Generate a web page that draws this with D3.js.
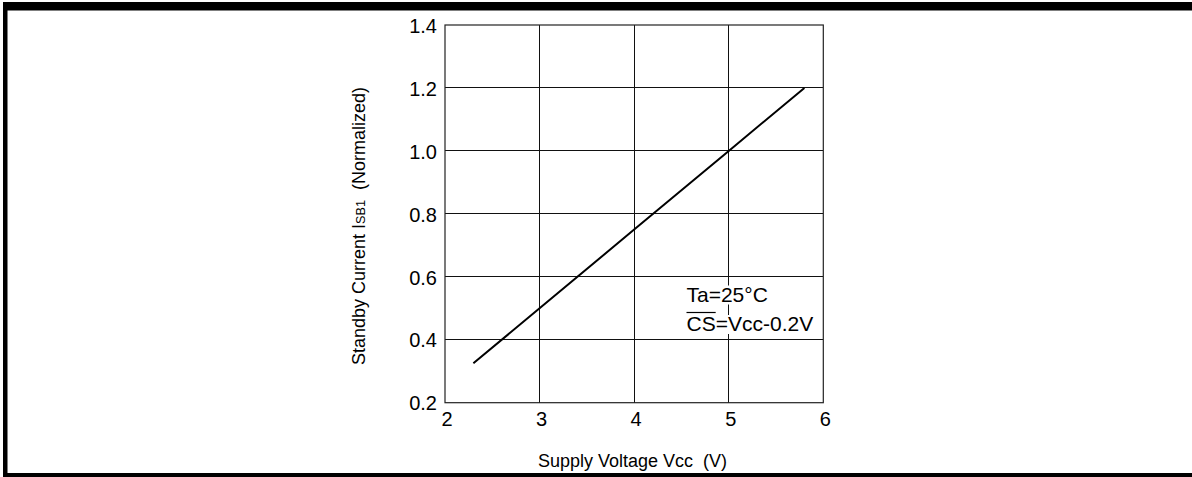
<!DOCTYPE html>
<html>
<head>
<meta charset="utf-8">
<script src="https://cdn.jsdelivr.net/npm/d3@7/dist/d3.min.js"></script>
<style>
  html, body { margin: 0; padding: 0; background: #fff; }
  svg { display: block; }
  text { font-family: "Liberation Sans", Arial, Helvetica, sans-serif; fill: #000; white-space: pre; }
</style>
</head>
<body>
<svg id="chart" width="1192" height="477"></svg>
<script>
// Standby current vs. supply voltage (normalized)
const voltage = [2.3, 3, 4, 5, 5.8];
const isb1 = [0.325, 0.5, 0.75, 1.0, 1.2];
const xTicks = [2, 3, 4, 5, 6];
const yTicks = [0.2, 0.4, 0.6, 0.8, 1.0, 1.2, 1.4];
const yTickLabels = ["0.2", "0.4", "0.6", "0.8", "1.0", "1.2", "1.4"];
const noteLines = ["Ta=25°C", "=Vcc-0.2V"];

const svg = d3.select("#chart");
const W = 1192, H = 477;

// page frame (heavy rules top, left, bottom)
svg.append("rect").attr("x", 3).attr("y", 2).attr("width", W - 3).attr("height", 8.5).attr("fill", "#000");
svg.append("rect").attr("x", 3).attr("y", 4).attr("width", 4.5).attr("height", H - 4).attr("fill", "#000");
svg.append("rect").attr("x", 3).attr("y", 473).attr("width", W - 3).attr("height", 4).attr("fill", "#000");

const plot = { left: 445, top: 25, right: 823.3, bottom: 402.7 };
const x = d3.scaleLinear().domain([2, 6]).range([plot.left, plot.right]);
const y = d3.scaleLinear().domain([0.2, 1.4]).range([plot.bottom, plot.top]);

const g = svg.append("g");

// grid
g.append("g").selectAll("line").data(xTicks.slice(1, -1)).join("line")
  .attr("x1", d => x(d)).attr("x2", d => x(d))
  .attr("y1", plot.top).attr("y2", plot.bottom)
  .attr("stroke", "#111").attr("stroke-width", 1).attr("shape-rendering", "crispEdges");
g.append("g").selectAll("line").data(yTicks.slice(1, -1)).join("line")
  .attr("y1", d => y(d)).attr("y2", d => y(d))
  .attr("x1", plot.left).attr("x2", plot.right)
  .attr("stroke", "#111").attr("stroke-width", 1).attr("shape-rendering", "crispEdges");

// plot border
g.append("rect")
  .attr("x", plot.left).attr("y", plot.top)
  .attr("width", plot.right - plot.left).attr("height", plot.bottom - plot.top)
  .attr("fill", "none").attr("stroke", "#222").attr("stroke-width", 1.2);

// axes (labels only)
const yAxis = d3.axisLeft(y).tickValues(yTicks)
  .tickFormat((d, i) => yTickLabels[i]).tickSize(0).tickPadding(8);
const ya = g.append("g").attr("transform", `translate(${plot.left},0)`).call(yAxis);
ya.select(".domain").remove();
ya.selectAll("text").attr("font-size", 20).attr("font-family", null).attr("dy", "0.36em");

const xAxis = d3.axisBottom(x).tickValues(xTicks).tickFormat(d3.format("d")).tickSize(0).tickPadding(9);
const xa = g.append("g").attr("transform", `translate(1.5,${plot.bottom})`).call(xAxis);
xa.select(".domain").remove();
xa.selectAll("text").attr("font-size", 20).attr("font-family", null);

// data line
const line = d3.line().x((d, i) => x(voltage[i])).y(d => y(d));
g.append("path").datum(isb1)
  .attr("d", line)
  .attr("fill", "none").attr("stroke", "#000").attr("stroke-width", 2);

// annotation with white backing so grid line sits behind the text
const note = g.append("g");
const t1 = note.append("text").attr("x", 686.5).attr("y", 301.5).attr("font-size", 21).text(noteLines[0]);
const t2 = note.append("text").attr("x", 686.5).attr("y", 331).attr("font-size", 21);
t2.append("tspan").text("CS");
t2.append("tspan").text(noteLines[1]);
[t1, t2].forEach(t => {
  const b = t.node().getBBox();
  note.insert("rect", "text")
    .attr("x", b.x).attr("y", b.y + 3).attr("width", b.width).attr("height", b.height - 4)
    .attr("fill", "#fff");
});
const csLen = t2.node().getSubStringLength(0, 2);
note.append("line")
  .attr("x1", 686.5).attr("x2", 686.5 + csLen)
  .attr("y1", 312.5).attr("y2", 312.5)
  .attr("stroke", "#000").attr("stroke-width", 1.2);

// axis titles
const yt = svg.append("text")
  .attr("transform", "translate(365,226) rotate(-90)")
  .attr("text-anchor", "middle").attr("font-size", 18);
yt.append("tspan").text("Standby Current I");
yt.append("tspan").attr("font-size", 12.6).text("SB1");
yt.append("tspan").text("  (Normalized)");

svg.append("text")
  .attr("x", 632.5).attr("y", 467)
  .attr("text-anchor", "middle").attr("font-size", 18)
  .text("Supply Voltage Vcc  (V)");
</script>
</body>
</html>
